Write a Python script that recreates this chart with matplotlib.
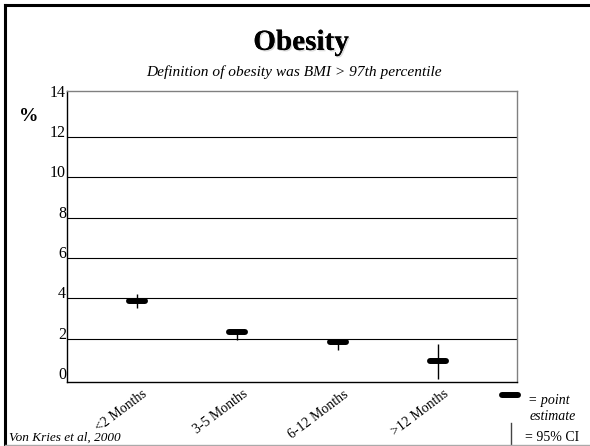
import numpy as np
import matplotlib
matplotlib.use("Agg")
import matplotlib.pyplot as plt
import matplotlib.patheffects as pe
from matplotlib.lines import Line2D
from matplotlib.markers import MarkerStyle
from matplotlib.transforms import ScaledTranslation

plt.rcParams["font.family"] = ["Liberation Serif", "DejaVu Serif"]

# data
groups = ["<2 Months", "3-5 Months", "6-12 Months", ">12 Months"]
estimate = [3.85, 2.35, 1.85, 0.9]
ci_low = [3.5, 1.95, 1.45, 0.0]
ci_high = [4.2, 2.45, 1.9, 1.75]
yticks = [0, 2, 4, 6, 8, 10, 12, 14]

fig = plt.figure(figsize=(5.9, 4.46), dpi=100)
ax = fig.add_axes([0.113, 0.1435, 0.763, 0.6535])

x = np.arange(len(groups))
bar = MarkerStyle("_", capstyle="round")

# 95% CI whiskers, then the point estimates on top
ax.vlines(x, ci_low, ci_high, color="black", lw=1)
ax.plot(x, estimate, ls="none", marker=bar, ms=11.5, mew=4.3, color="black")

ax.set_xlim(-0.70, 3.786)
ax.set_ylim(-0.15, 14.3)
ax.set_yticks(yticks)
ax.set_yticklabels([str(v) for v in yticks], fontsize=11.5, va="baseline")
ax.tick_params(axis="y", length=0, pad=0.5)
ax.set_xticks(x)
ax.set_xticklabels(groups, fontsize=10, rotation=37, ha="right", rotation_mode="anchor")
ax.tick_params(axis="x", length=0, pad=4)
shift = ScaledTranslation(5 / 100, 0, fig.dpi_scale_trans)
for lab in ax.get_xticklabels():
    lab.set_transform(lab.get_transform() + shift)

ax.grid(axis="y", color="black", lw=0.8)
ax.set_axisbelow(True)
gl = ax.get_ygridlines()
gl[0].set_visible(False)
gl[-1].set_visible(False)

for side in ["top", "right"]:
    ax.spines[side].set_color("#808080")
for side in ["left", "bottom"]:
    ax.spines[side].set_color("black")
for s in ax.spines.values():
    s.set_linewidth(1)

# titles
fig.text(0.51, 0.905, "Obesity", fontsize=21, fontweight="bold", ha="center", va="center",
         path_effects=[pe.withSimplePatchShadow(offset=(1, -1), shadow_rgbFace="#cccccc", alpha=0.7),
                       pe.Normal()])
fig.text(0.498, 0.838, "Definition of obesity was BMI > 97th percentile", fontsize=11.1,
         style="italic", ha="center", va="center")
fig.text(0.032, 0.738, "%", fontsize=14, fontweight="bold", ha="left", va="center")
fig.text(0.016, 0.006, "Von Kries et al, 2000", fontsize=9.5, style="italic", ha="left", va="bottom")

# legend in the lower right corner
fig.add_artist(Line2D([0.864], [0.114], transform=fig.transFigure, marker=bar, ms=11.5, mew=4.3,
                      color="black", ls="none"))
fig.text(0.895, 0.103, "= point", fontsize=10, style="italic", ha="left", va="center")
fig.text(0.897, 0.067, "estimate", fontsize=10, style="italic", ha="left", va="center")
fig.add_artist(Line2D([0.866, 0.866], [0.0, 0.052], transform=fig.transFigure, color="#444444", lw=1))
fig.text(0.889, 0.02, "= 95% CI", fontsize=10, ha="left", va="center")

# slide frame
fig.add_artist(Line2D([0.009, 0.009], [0.0, 0.988], transform=fig.transFigure, color="black", lw=2.2))
fig.add_artist(Line2D([0.009, 1.0], [0.988, 0.988], transform=fig.transFigure, color="black", lw=2.2))
fig.add_artist(Line2D([0.009, 1.0], [0.003, 0.003], transform=fig.transFigure, color="#aaaaaa", lw=1))

fig.savefig("out.png", dpi=100)
